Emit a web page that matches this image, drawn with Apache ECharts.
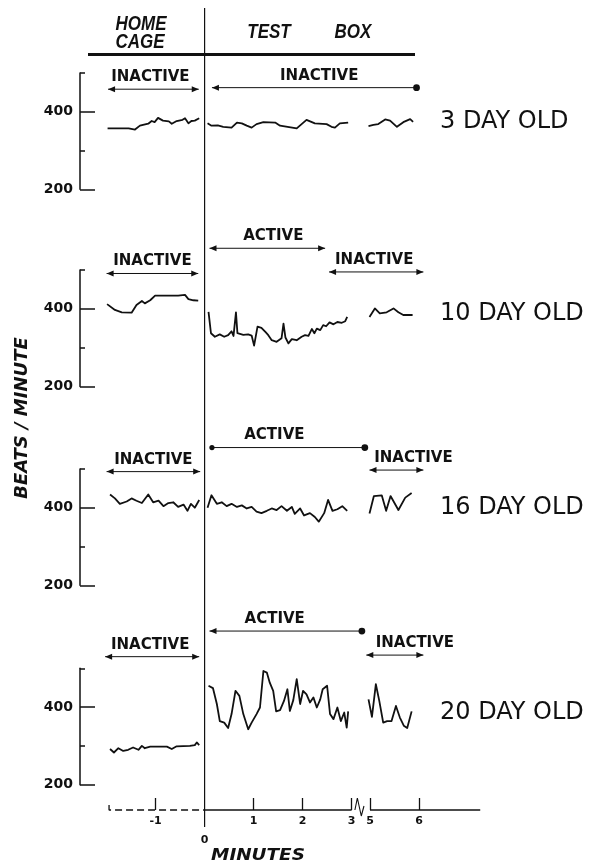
<!DOCTYPE html>
<html>
<head>
<meta charset="utf-8">
<script src="https://cdn.jsdelivr.net/npm/echarts@6/dist/echarts.min.js"></script>
<style>
  html, body { margin: 0; padding: 0; background: #fff; }
  #chart { width: 592px; height: 868px; }
</style>
</head>
<body>
<div id="chart"></div>
<script>
// Heart rate (beats / minute) of pups in the home cage and after transfer to a test box.

const ageLabels = ['3 DAY OLD', '10 DAY OLD', '16 DAY OLD', '20 DAY OLD'];
const xTickMinutes = [-1, 0, 1, 2, 3, 5, 6];
const yLabelValues = [200, 400];
const yMinorValues = [300, 500];

// [minute, beats/minute]
const home3 = [[-1.98,357],[-1.55,357],[-1.42,354],[-1.32,364],[-1.15,369],[-1.08,376],[-1.02,373],[-0.95,384],[-0.85,377],[-0.73,375],[-0.67,369],[-0.57,376],[-0.45,379],[-0.40,383],[-0.33,370],[-0.27,376],[-0.20,377],[-0.11,383]];
const test3 = [[0.06,370],[0.14,364],[0.27,365],[0.38,361],[0.55,359],[0.66,372],[0.76,370],[0.86,364],[0.96,359],[1.06,368],[1.20,373],[1.44,372],[1.54,364],[1.88,357],[2.08,379],[2.25,370],[2.49,368],[2.59,361],[2.66,359],[2.76,370],[2.93,372]];
const after3 = [[4.97,363],[5.07,366],[5.17,368],[5.31,380],[5.41,377],[5.55,361],[5.68,373],[5.82,381],[5.88,374]];

const home10 = [[-1.99,412],[-1.83,397],[-1.69,391],[-1.49,390],[-1.39,410],[-1.28,420],[-1.22,414],[-1.11,422],[-1.01,434],[-0.84,434],[-0.54,434],[-0.40,436],[-0.33,425],[-0.23,422],[-0.13,421]];
const test10 = [[0.08,392],[0.13,337],[0.21,328],[0.31,334],[0.40,328],[0.48,332],[0.55,342],[0.59,330],[0.64,391],[0.67,337],[0.79,333],[0.89,334],[0.96,331],[1.01,305],[1.08,354],[1.16,351],[1.25,339],[1.30,332],[1.37,319],[1.47,315],[1.57,324],[1.61,362],[1.65,326],[1.71,311],[1.78,322],[1.88,319],[1.98,328],[2.05,332],[2.12,330],[2.19,348],[2.24,337],[2.29,349],[2.36,345],[2.42,358],[2.48,355],[2.55,365],[2.63,360],[2.71,366],[2.80,364],[2.87,368],[2.91,379]];
const after10 = [[4.99,379],[5.10,401],[5.20,388],[5.34,391],[5.48,401],[5.58,391],[5.68,384],[5.87,384]];

const home16 = [[-1.93,434],[-1.83,424],[-1.73,410],[-1.59,416],[-1.49,424],[-1.39,418],[-1.28,412],[-1.15,434],[-1.05,414],[-0.94,418],[-0.84,404],[-0.74,412],[-0.64,414],[-0.54,402],[-0.43,408],[-0.35,392],[-0.28,410],[-0.20,400],[-0.11,420]];
const test16 = [[0.06,400],[0.14,432],[0.25,410],[0.35,414],[0.45,404],[0.55,410],[0.66,402],[0.76,406],[0.86,398],[0.96,402],[1.06,390],[1.16,386],[1.27,392],[1.37,398],[1.47,394],[1.57,404],[1.68,392],[1.78,402],[1.84,384],[1.95,398],[2.03,380],[2.15,386],[2.25,376],[2.33,364],[2.44,386],[2.52,420],[2.61,392],[2.71,396],[2.81,404],[2.91,392]];
const after16 = [[4.99,385],[5.04,410],[5.08,430],[5.24,432],[5.33,392],[5.42,430],[5.58,394],[5.72,426],[5.85,438]];

const home20 = [[-1.93,292],[-1.85,283],[-1.76,294],[-1.66,287],[-1.56,290],[-1.46,296],[-1.35,290],[-1.28,300],[-1.22,294],[-1.11,298],[-0.77,298],[-0.67,292],[-0.57,299],[-0.30,300],[-0.20,302],[-0.16,309],[-0.11,302]];
const test20 = [[0.08,455],[0.17,449],[0.25,408],[0.31,364],[0.40,360],[0.48,346],[0.55,382],[0.63,442],[0.71,429],[0.79,382],[0.89,343],[0.96,360],[1.06,382],[1.13,399],[1.20,493],[1.27,489],[1.33,463],[1.40,442],[1.46,389],[1.54,392],[1.62,416],[1.69,446],[1.74,390],[1.81,418],[1.88,472],[1.95,408],[2.01,442],[2.08,433],[2.15,412],[2.22,425],[2.29,399],[2.36,420],[2.41,446],[2.50,455],[2.56,382],[2.63,369],[2.71,399],[2.78,364],[2.85,386],[2.90,347],[2.93,389]];
const after20 = [[4.97,420],[5.04,375],[5.12,459],[5.19,416],[5.27,360],[5.35,364],[5.44,364],[5.53,403],[5.61,373],[5.69,352],[5.76,346],[5.85,389]];

// Behaviour periods: [label, start minute, end minute, start end-mark, end end-mark]
const phases3 = [['INACTIVE', -1.97, -0.12, 'arrow', 'arrow'], ['INACTIVE', 0.15, 5.95, 'arrow', 'dot']];
const phases10 = [['INACTIVE', -2.0, -0.13, 'arrow', 'arrow'], ['ACTIVE', 0.10, 2.46, 'arrow', 'arrow'], ['INACTIVE', 2.54, 6.09, 'arrow', 'arrow']];
const phases16 = [['INACTIVE', -2.0, -0.09, 'arrow', 'arrow'], ['ACTIVE', 0.15, 3.27, 'dot', 'dot'], ['INACTIVE', 4.99, 6.09, 'arrow', 'arrow']];
const phases20 = [['INACTIVE', -2.03, -0.11, 'arrow', 'arrow'], ['ACTIVE', 0.10, 3.21, 'arrow', 'dot'], ['INACTIVE', 3.30, 6.09, 'arrow', 'arrow']];

// ---- layout -------------------------------------------------------------
const INK = '#111';
const PLOT_LEFT = 106.6, PLOT_W = 392;       // x range -2 .. 6 (drawn minutes)
const PANEL_H = 116.4;                        // 200 .. 500 beats/minute
const panels = [
  { top: 72.9,  home: home3,  test: test3,  after: after3,  phases: phases3,  levels: [458, 462],      shifts: [-3, 5],       labelY: 122 },
  { top: 270,   home: home10, test: test10, after: after10, phases: phases10, levels: [491, 556, 495], shifts: [0, 6, -2],    labelY: 314 },
  { top: 468.9, home: home16, test: test16, after: after16, phases: phases16, levels: [493, 555, 497], shifts: [0, -14, 17],  labelY: 507.5 },
  { top: 668.3, home: home20, test: test20, after: after20, phases: phases20, levels: [530, 596, 534], shifts: [-2, -11, 20], labelY: 712.5 }
];

// The time axis is broken between minute 3 and minute 5.
const BREAK_FROM = 3, BREAK_TO = 5, BREAK_GAP = 0.375;
const BREAK_SHIFT = BREAK_TO - BREAK_FROM - BREAK_GAP;
const pos = m => (m > 4 ? m - BREAK_SHIFT : m);
const minuteAt = p => (p > BREAK_FROM + BREAK_GAP / 2 ? p + BREAK_SHIFT : p);
const toPos = arr => arr.map(d => [pos(d[0]), d[1]]);

const grid = [], xAxis = [], yAxis = [], series = [];

panels.forEach((p, i) => {
  grid.push({ left: PLOT_LEFT, width: PLOT_W, top: p.top, height: PANEL_H });
  xAxis.push({ type: 'value', gridIndex: i, min: -2, max: 6, show: false, axisLine: { onZero: false } });
  yAxis.push({
    type: 'value', gridIndex: i, min: 200, max: 500, position: 'left', offset: 26.6,
    axisLine: { show: true, onZero: false, lineStyle: { color: INK, width: 1.5 } },
    axisTick: { show: true, inside: true, length: 15, customValues: yLabelValues, lineStyle: { color: INK, width: 1.5 } },
    axisLabel: { show: true, customValues: yLabelValues, margin: 7, color: INK, fontFamily: 'DejaVu Sans', fontWeight: 'bold', fontSize: 14 },
    splitLine: { show: false }
  });
  yAxis.push({
    type: 'value', gridIndex: i, min: 200, max: 500, position: 'left', offset: 26.6,
    axisLine: { show: false, onZero: false },
    axisTick: { show: true, inside: true, length: 5, customValues: yMinorValues, lineStyle: { color: INK, width: 1.5 } },
    axisLabel: { show: false },
    splitLine: { show: false }
  });

  [p.home, p.test, p.after].forEach(seg => {
    series.push({
      type: 'line', xAxisIndex: i, yAxisIndex: i * 2, data: toPos(seg),
      showSymbol: false, symbol: 'none', clip: false, silent: true,
      lineStyle: { color: INK, width: 1.8, join: 'round' }
    });
  });

  // period arrows with their captions
  series.push({
    type: 'custom', xAxisIndex: i, yAxisIndex: i * 2, clip: false, silent: true,
    encode: { x: [0, 1], y: 2 },
    data: p.phases.map((ph, k) => [pos(ph[1]), pos(ph[2]), p.levels[k], k]),
    renderItem: (params, api) => {
      const k = api.value(3);
      const ph = p.phases[k];
      const a = api.coord([api.value(0), api.value(2)]);
      const b = api.coord([api.value(1), api.value(2)]);
      const end = (pt, dir, kind) => kind === 'dot'
        ? { type: 'circle', shape: { cx: pt[0], cy: pt[1], r: dir < 0 ? 2.6 : 3.4 }, style: { fill: INK } }
        : { type: 'polygon', shape: { points: [[pt[0], pt[1]], [pt[0] - dir * 7, pt[1] - 3], [pt[0] - dir * 7, pt[1] + 3]] }, style: { fill: INK } };
      return {
        type: 'group',
        children: [
          { type: 'line', shape: { x1: a[0], y1: a[1], x2: b[0], y2: b[1] }, style: { stroke: INK, lineWidth: 1 } },
          end(a, -1, ph[3]),
          end(b, 1, ph[4]),
          { type: 'text', x: (a[0] + b[0]) / 2 + p.shifts[k], y: a[1] - 12,
            style: { text: ph[0], fill: INK, font: 'bold 15px "DejaVu Sans"', align: 'center', verticalAlign: 'middle' } }
        ]
      };
    }
  });
});

// Shared time axis grid (bottom edge is the minutes axis line)
const AX = 4;
grid.push({ left: PLOT_LEFT, width: PLOT_W, top: 8, height: 802 });
xAxis.push({
  type: 'value', gridIndex: AX, min: -2, max: 6, position: 'bottom',
  axisLine: { show: false, onZero: false },
  axisTick: { show: true, inside: true, length: 12, customValues: xTickMinutes.filter(m => m !== 0).map(pos), lineStyle: { color: INK, width: 1.3 } },
  axisLabel: {
    show: true, customValues: xTickMinutes.map(pos), margin: 6,
    formatter: v => {
      const m = Math.round(minuteAt(v) * 100) / 100;
      return m === 0 ? '{zero|0}' : '{n|' + m + '}';
    },
    rich: {
      n: { color: INK, fontFamily: 'DejaVu Sans', fontWeight: 'bold', fontSize: 11 },
      zero: { color: INK, fontFamily: 'DejaVu Sans', fontWeight: 'bold', fontSize: 11, padding: [19, 0, 0, 0] }
    }
  },
  splitLine: { show: false }
});
yAxis.push({ type: 'value', gridIndex: AX, min: 0, max: 802, show: false, axisLine: { onZero: false } });

const axisSeries = (data, extra) => Object.assign({
  type: 'line', xAxisIndex: AX, yAxisIndex: yAxis.length - 1, data,
  showSymbol: false, symbol: 'none', clip: false, silent: true,
  lineStyle: { color: INK, width: 1.3 }
}, extra || {});

// minutes axis: dashed in the home cage, solid in the test box, broken between 3 and 5
series.push(axisSeries([[pos(-1.95), 5], [pos(-1.95), 0], [0, 0]], { lineStyle: { color: INK, width: 1.3, type: [7, 4] } }));
series.push(axisSeries([[0, 0], [pos(BREAK_FROM), 0]]));
series.push(axisSeries([[pos(BREAK_TO), 0], [pos(7.25), 0]]));
const bc = (pos(BREAK_FROM) + pos(BREAK_TO)) / 2;
series.push(axisSeries([[bc - 0.12, 0], [bc - 0.07, 12], [bc + 0.01, -6], [bc + 0.065, 4]], { lineStyle: { color: INK, width: 1.1 } }));
// transfer to the test box at minute 0
series.push(axisSeries([[0, -17], [0, 802]], { lineStyle: { color: INK, width: 1.2 } }));

const headFont = 'italic bold 20px "Liberation Sans"';
const graphic = [
  { type: 'line', shape: { x1: 88, y1: 54.5, x2: 415, y2: 54.5 }, style: { stroke: INK, lineWidth: 3 } },
  { type: 'text', x: 141, y: 24, scaleX: 0.85, style: { text: 'HOME', font: headFont, fill: INK, align: 'center', verticalAlign: 'middle' } },
  { type: 'text', x: 140, y: 42.5, scaleX: 0.85, style: { text: 'CAGE', font: headFont, fill: INK, align: 'center', verticalAlign: 'middle' } },
  { type: 'text', x: 269, y: 32.5, scaleX: 0.85, style: { text: 'TEST', font: headFont, fill: INK, align: 'center', verticalAlign: 'middle' } },
  { type: 'text', x: 353, y: 32.5, scaleX: 0.85, style: { text: 'BOX', font: headFont, fill: INK, align: 'center', verticalAlign: 'middle' } },
  { type: 'text', x: 22, y: 418, rotation: Math.PI / 2, style: { text: 'BEATS / MINUTE', font: 'italic bold 18px "DejaVu Sans"', fill: INK, align: 'center', verticalAlign: 'middle' } },
  { type: 'text', x: 258, y: 856, scaleX: 1.15, style: { text: 'MINUTES', font: 'italic bold 16px "DejaVu Sans"', fill: INK, align: 'center', verticalAlign: 'middle' } }
];
panels.forEach((p, i) => {
  graphic.push({ type: 'text', x: 440, y: p.labelY, style: { text: ageLabels[i], font: '24px "DejaVu Sans"', fill: INK, align: 'left', verticalAlign: 'middle' } });
});

const chart = echarts.init(document.getElementById('chart'), null, { renderer: 'canvas' });
chart.setOption({
  backgroundColor: '#fff',
  animation: false,
  grid, xAxis, yAxis, series, graphic
});
</script>
</body>
</html>
